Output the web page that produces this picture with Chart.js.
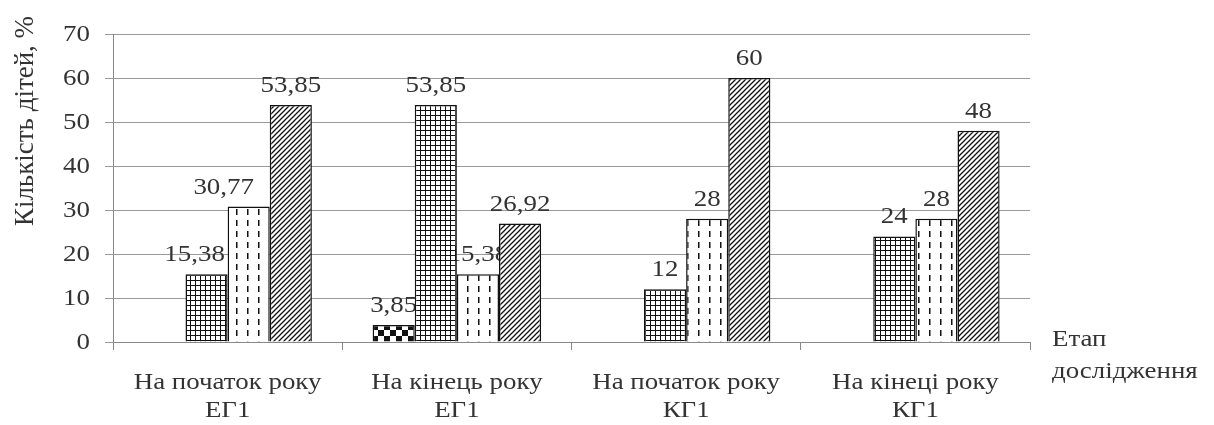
<!DOCTYPE html>
<html lang="uk">
<head>
<meta charset="utf-8">
<title>Кількість дітей за етапами дослідження</title>
<script src="https://cdn.jsdelivr.net/npm/chart.js@4.4.1/dist/chart.umd.min.js"></script>
<style>
    body { margin: 0; background: #fff; }
    #grafik { display: block; }
</style>
</head>
<body>
<canvas id="grafik" width="1214" height="425"></canvas>
<script>
// Етапи (категорії осі X)
const etapy = [
    ['На початок року', 'ЕГ1'],
    ['На кінець року', 'ЕГ1'],
    ['На початок року', 'КГ1'],
    ['На кінеці року', 'КГ1']
];

// Чотири ряди, % дітей; null — стовпчика немає
const ryad1 = [null, 3.85, null, null];
const ryad2 = [15.38, 53.85, 12, 24];
const ryad3 = [30.77, 15.38, 28, 28];
const ryad4 = [53.85, 26.92, 60, 48];

const pidpysy = [0, 10, 20, 30, 40, 50, 60, 70];

const shryft = '"Liberation Serif", "DejaVu Serif", serif';
const kolirTekstu = '#333';
const roztyah = 1.17; // шрифт трохи розтягнутий по ширині

// Штрихування стовпчиків
function vizerunok(w, h, malyuvaty) {
    const c = document.createElement('canvas');
    c.width = w;
    c.height = h;
    const g = c.getContext('2d');
    g.fillStyle = '#fff';
    g.fillRect(0, 0, w, h);
    g.strokeStyle = '#111';
    g.fillStyle = '#111';
    malyuvaty(g);
    return document.createElement('canvas').getContext('2d').createPattern(c, 'repeat');
}

const shakhy = vizerunok(12, 12, g => {
    g.fillRect(0, 0, 6, 6);
    g.fillRect(6, 6, 6, 6);
});

const sitka = vizerunok(5, 5, g => {
    g.lineWidth = 1;
    g.beginPath();
    g.moveTo(0.5, 0); g.lineTo(0.5, 5);
    g.moveTo(0, 0.5); g.lineTo(5, 0.5);
    g.stroke();
});

const kraplyny = vizerunok(11, 11, g => {
    g.fillRect(5, 0, 1.5, 6);
});

const kosi = vizerunok(5, 5, g => {
    g.lineWidth = 1.3;
    g.beginPath();
    g.moveTo(-1, 6); g.lineTo(6, -1);
    g.moveTo(-1, 1); g.lineTo(1, -1);
    g.moveTo(4, 6); g.lineTo(6, 4);
    g.stroke();
});

function tekst(ctx, t, x, y, align) {
    ctx.save();
    ctx.translate(x, y);
    ctx.scale(roztyah, 1);
    ctx.textAlign = align;
    ctx.fillText(t, 0, 0);
    ctx.restore();
}

// Зсув підписів, що стоять збоку від стовпчика
const zsuvPidpysu = { '1-0': -12, '2-0': -25 };

const pidpysyZnachen = {
    id: 'pidpysyZnachen',
    beforeDatasetsDraw(chart) {
        const ctx = chart.ctx;
        ctx.save();
        ctx.font = '23px ' + shryft;
        ctx.fillStyle = kolirTekstu;
        ctx.textBaseline = 'alphabetic';
        chart.data.datasets.forEach((ds, i) => {
            chart.getDatasetMeta(i).data.forEach((bar, j) => {
                const v = ds.data[j];
                if (v === null) return;
                const dx = zsuvPidpysu[i + '-' + j] || 0;
                tekst(ctx, String(v).replace('.', ','), bar.x + dx, bar.y - 13, 'center');
            });
        });
        ctx.restore();
    },
    afterDraw(chart) {
        const ctx = chart.ctx;
        const sx = chart.scales.x;
        const sy = chart.scales.y;
        ctx.save();
        ctx.fillStyle = kolirTekstu;

        // підписи осі Y
        ctx.font = '23px ' + shryft;
        ctx.textBaseline = 'middle';
        pidpysy.forEach(v => tekst(ctx, String(v), 90, sy.getPixelForValue(v) + 1, 'right'));

        // підписи категорій
        ctx.font = '23px ' + shryft;
        ctx.textBaseline = 'middle';
        etapy.forEach((rows, i) => {
            const x = sx.getPixelForTick(i);
            rows.forEach((r, k) => tekst(ctx, r, x, 383 + k * 28, 'center'));
        });

        // назва осі X
        tekst(ctx, 'Етап', 1052, 340, 'left');
        tekst(ctx, 'дослідження', 1052, 372, 'left');

        // назва осі Y
        ctx.font = '27px ' + shryft;
        ctx.translate(26, 121);
        ctx.rotate(-Math.PI / 2);
        ctx.textAlign = 'center';
        ctx.fillText('Кількість дітей, %', 0, 0);
        ctx.restore();
    }
};

new Chart(document.getElementById('grafik'), {
    type: 'bar',
    data: {
        labels: etapy,
        datasets: [
            { data: ryad1, backgroundColor: shakhy },
            { data: ryad2, backgroundColor: sitka },
            { data: ryad3, backgroundColor: kraplyny },
            { data: ryad4, backgroundColor: kosi }
        ].map(d => Object.assign(d, {
            borderColor: '#111',
            borderWidth: 1.5,
            barPercentage: 1,
            categoryPercentage: 0.735
        }))
    },
    options: {
        responsive: false,
        animation: false,
        layout: { padding: { top: 34, right: 184, left: 0, bottom: 0 } },
        plugins: {
            legend: { display: false },
            tooltip: { enabled: false }
        },
        scales: {
            x: {
                afterFit: s => { s.height = 83; },
                grid: {
                    drawOnChartArea: false,
                    tickLength: 8,
                    color: '#888'
                },
                border: { color: '#888', width: 1 },
                ticks: { display: false }
            },
            y: {
                min: 0,
                max: 70,
                afterFit: s => { s.width = 113; },
                afterBuildTicks: s => { s.ticks = pidpysy.map(v => ({ value: v })); },
                grid: { color: '#999', tickLength: 8 },
                border: { color: '#888', width: 1 },
                ticks: { display: false }
            }
        }
    },
    plugins: [pidpysyZnachen]
});
</script>
</body>
</html>
